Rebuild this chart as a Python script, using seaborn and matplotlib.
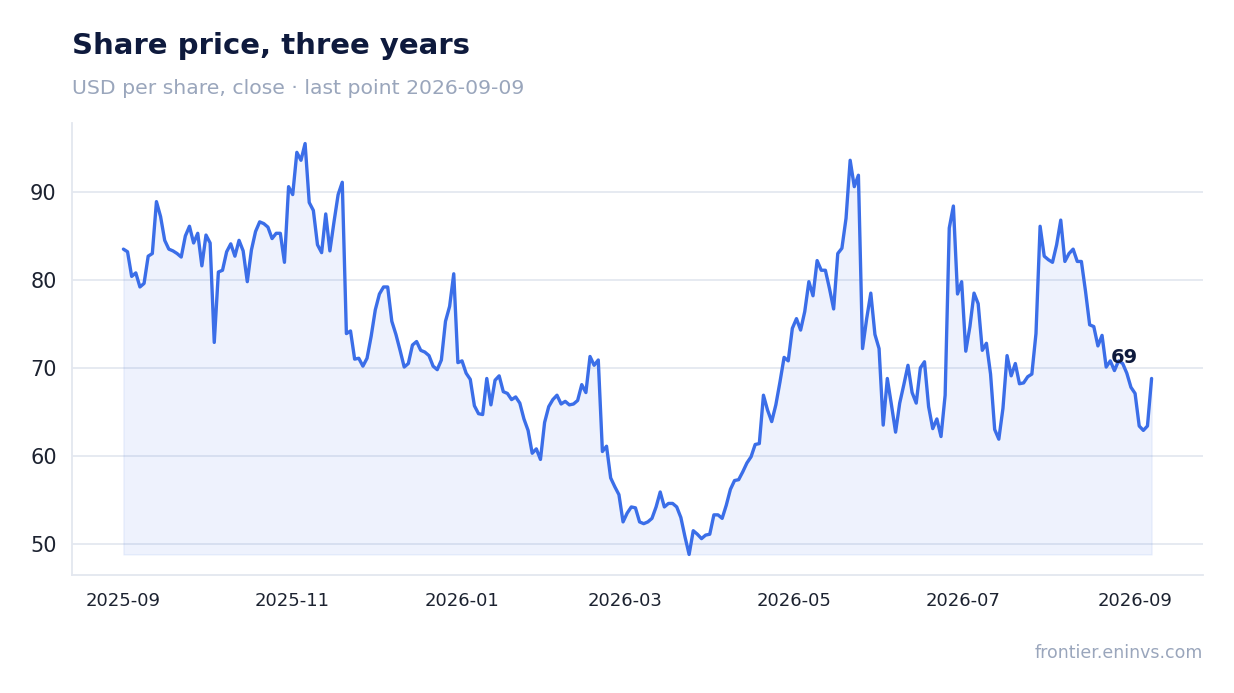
import pandas as pd
import matplotlib
matplotlib.use("Agg")
import matplotlib.pyplot as plt
import matplotlib.dates as mdates
import seaborn as sns

sns.set_theme(style="white")
plt.rcParams['font.family'] = ['DejaVu Sans']

LINE = "#3b6ee8"
NAVY = "#0e1a3d"
MUTED = "#9aa6bc"
GRID = "#e4e8f0"

title = "Share price, three years"
subtitle = "USD per share, close · last point 2026-09-09"
source = "frontier.eninvs.com"

# first and last close on the chart
start_date = "2025-09-01"
end_date = "2026-09-07"

# closing prices
price = [
    83.5, 83.2, 80.4, 80.8, 79.2, 79.6, 82.7, 83.0, 88.9, 87.2,
    84.5, 83.5, 83.3, 83.0, 82.6, 85.0, 86.1, 84.2, 85.3, 81.6,
    85.1, 84.2, 72.9, 80.9, 81.1, 83.2, 84.1, 82.7, 84.5, 83.3,
    79.8, 83.4, 85.5, 86.6, 86.4, 86.0, 84.7, 85.3, 85.3, 82.0,
    90.6, 89.7, 94.5, 93.6, 95.5, 88.8, 87.9, 84.0, 83.1, 87.5,
    83.3, 86.6, 89.7, 91.1, 73.9, 74.2, 71.0, 71.1, 70.2, 71.1,
    73.6, 76.6, 78.4, 79.2, 79.2, 75.3, 73.8, 72.0, 70.1, 70.5,
    72.6, 73.0, 72.0, 71.8, 71.4, 70.2, 69.8, 70.9, 75.3, 77.0,
    80.7, 70.6, 70.8, 69.4, 68.7, 65.7, 64.8, 64.7, 68.8, 65.8,
    68.6, 69.1, 67.3, 67.1, 66.4, 66.7, 66.0, 64.2, 62.9, 60.3,
    60.8, 59.6, 63.8, 65.6, 66.4, 66.9, 65.9, 66.2, 65.8, 65.9,
    66.3, 68.1, 67.2, 71.3, 70.3, 70.9, 60.5, 61.1, 57.5, 56.5,
    55.6, 52.5, 53.5, 54.2, 54.1, 52.5, 52.3, 52.5, 52.9, 54.2,
    55.9, 54.2, 54.6, 54.6, 54.2, 53.0, 50.8, 48.8, 51.5, 51.1,
    50.6, 51.0, 51.1, 53.3, 53.3, 52.9, 54.4, 56.2, 57.2, 57.3,
    58.2, 59.2, 59.9, 61.3, 61.4, 66.9, 65.2, 63.9, 65.8, 68.4,
    71.2, 70.8, 74.5, 75.6, 74.3, 76.4, 79.8, 78.2, 82.2, 81.1,
    81.1, 79.0, 76.7, 83.0, 83.6, 87.0, 93.6, 90.6, 91.9, 72.2,
    75.6, 78.5, 73.8, 72.2, 63.5, 68.8, 65.8, 62.7, 66.0, 68.1,
    70.3, 67.2, 66.0, 70.0, 70.7, 65.6, 63.1, 64.2, 62.2, 66.9,
    85.9, 88.4, 78.4, 79.8, 71.9, 74.7, 78.5, 77.3, 72.0, 72.8,
    69.3, 63.0, 61.9, 65.4, 71.4, 69.1, 70.5, 68.2, 68.3, 69.0,
    69.3, 73.9, 86.1, 82.7, 82.3, 82.0, 84.0, 86.8, 82.1, 83.0,
    83.5, 82.1, 82.1, 78.7, 74.9, 74.7, 72.5, 73.7, 70.1, 70.8,
    69.7, 70.8, 70.5, 69.4, 67.8, 67.1, 63.4, 62.9, 63.4, 68.8,
]

dates = pd.date_range(start_date, end_date, periods=len(price))
df = pd.DataFrame({"date": dates, "close": price})

fig = plt.figure(figsize=(12.34, 6.93), dpi=100)
ax = fig.add_axes([72 / 1234, 1 - 575 / 693, 1131 / 1234, 452 / 693])

# light area under the line, down to the lowest close
ax.fill_between(df["date"], df["close"], df["close"].min(),
                color=LINE, alpha=0.085, lw=1, zorder=1)
sns.lineplot(data=df, x="date", y="close", ax=ax, color=LINE,
             linewidth=2.4, zorder=3)

ax.set_axisbelow(True)
ax.yaxis.grid(True, color=GRID, lw=1.3)
ax.xaxis.grid(False)
for side in ["top", "right"]:
    ax.spines[side].set_visible(False)
for side in ["left", "bottom"]:
    ax.spines[side].set_color("#e3e7ef")
    ax.spines[side].set_linewidth(1.3)

ax.xaxis.set_major_locator(mdates.MonthLocator(bymonth=[1, 3, 5, 7, 9, 11]))
ax.xaxis.set_major_formatter(mdates.DateFormatter("%Y-%m"))
ax.tick_params(axis="both", length=5, width=1.2, color="#3a4150",
               labelcolor="#1c2230")
ax.tick_params(axis="y", labelsize=15, pad=6)
ax.tick_params(axis="x", labelsize=13, pad=7)
ax.set_xlabel("")
ax.set_ylabel("")

last = df.iloc[-1]
ax.annotate(f"{last['close']:.0f}", xy=(last["date"], last["close"]),
            xytext=(-10, 11), textcoords="offset points", ha="right",
            va="baseline", fontsize=14, fontweight="bold", color=NAVY)

fig.text(72 / 1234, 1 - 54.3 / 693, title, fontsize=21, fontweight="bold",
         color=NAVY, va="baseline")
fig.text(72 / 1234, 1 - 94 / 693, subtitle, fontsize=14.65, color=MUTED,
         va="baseline")
fig.text(1203 / 1234, 1 - 658.3 / 693, source, fontsize=12.5, color=MUTED,
         ha="right", va="baseline")

fig.savefig("out.png", dpi=100)
